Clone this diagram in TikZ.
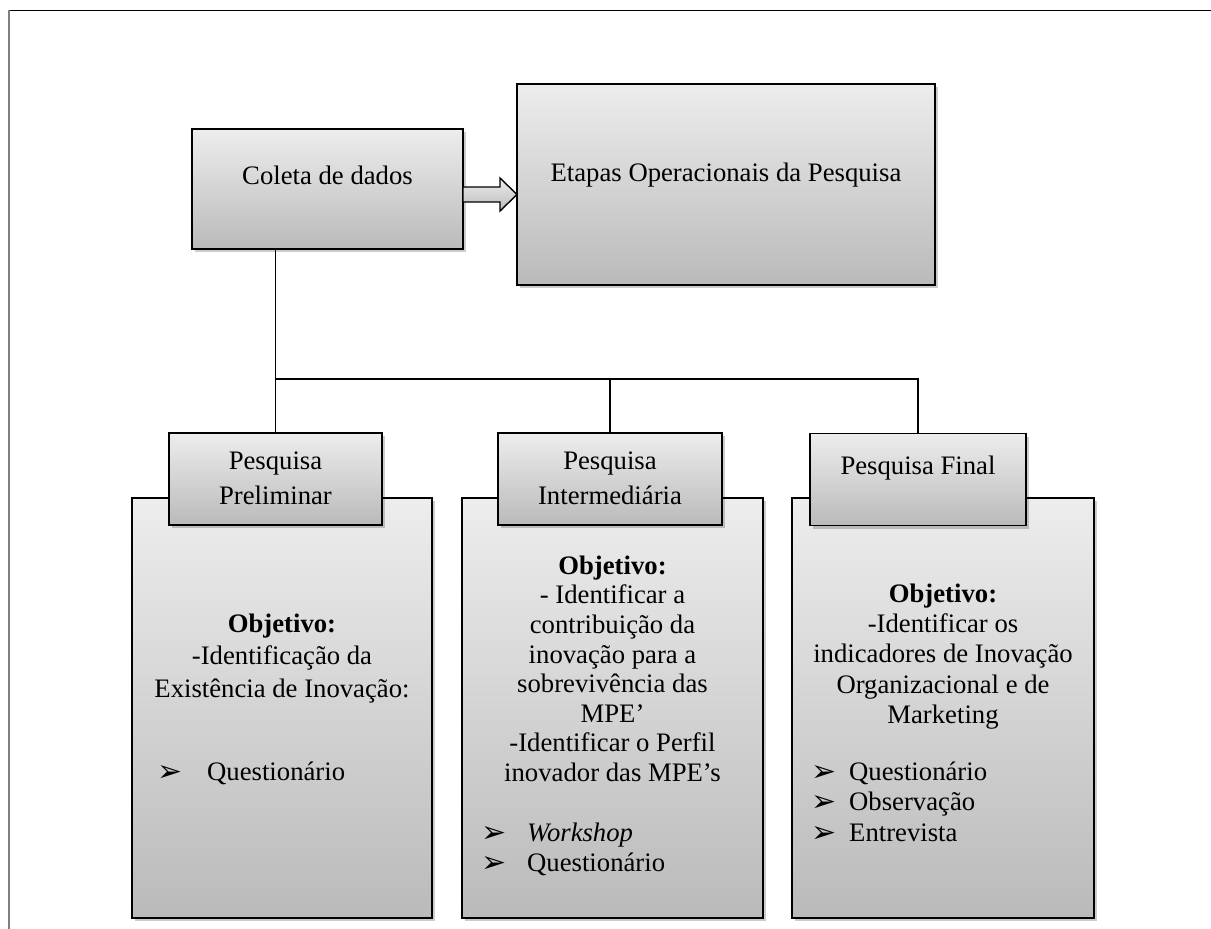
\documentclass[tikz,border=0pt]{standalone}
\usepackage{fontspec}
\setmainfont{Liberation Serif}
\newfontfamily\dejavu{DejaVu Sans}
\usetikzlibrary{shadows,calc}
\definecolor{boxtop}{RGB}{237,237,237}
\definecolor{boxbot}{RGB}{186,186,186}
\newcommand\myst{\rule{0pt}{20pt}}
\begin{document}
\begin{tikzpicture}[x=1pt,y=-1pt,
  box/.style={draw=black, line width=1.8pt, rectangle, inner sep=0pt, outer sep=0pt,
    top color=boxtop, bottom color=boxbot,
    drop shadow={shadow xshift=2.5pt, shadow yshift=-3pt, fill=black, opacity=0.2}},
  txt/.style={font=\fontsize{26.7}{31}\selectfont, align=center, inner sep=0pt, anchor=north},
  ltxt/.style={font=\fontsize{26.7}{31}\selectfont, inner sep=0pt, anchor=base west},
  bul/.style={font=\dejavu\fontsize{30}{30}\selectfont, inner sep=0pt, anchor=base west},
  ln/.style={line width=1.5pt, draw=black}]
\useasboundingbox (0,0) rectangle (1211,929);
% frame
\draw[line width=1.6pt] (9,10.5) -- (1211,10.5);
\draw[line width=2pt, draw=gray] (9,10) -- (9,929);
% top boxes
\node[box, minimum width=271pt, minimum height=120pt] (coleta) at (327.5,189) {};
\node[box, minimum width=418pt, minimum height=201pt] (etapas) at (726,184.5) {};
\node[txt] at (327.5,164) {\myst Coleta de dados};
\node[txt] at (726,161) {\myst Etapas Operacionais da Pesquisa};
% block arrow
\draw[line width=1.4pt, top color=boxtop, bottom color=boxbot, line join=miter]
  ($(coleta.east)+(0,-2)$) -- ++(37,0) -- ++(0,-9) -- ($(etapas.west)+(0,10)$)
  -- ($(coleta.east)+(37,22)$) -- ++(0,-9) -- ($(coleta.east)+(0,13)$) -- cycle;
% big boxes
\node[box, minimum width=300pt, minimum height=420pt] (bl) at (282,708) {};
\node[box, minimum width=301pt, minimum height=420pt] (bm) at (612.5,708) {};
\node[box, minimum width=302pt, minimum height=420pt] (br) at (943,708) {};
% small boxes
\node[box, minimum width=213pt, minimum height=92pt] (prelim) at (275.5,479) {};
\node[box, minimum width=224pt, minimum height=92pt] (inter) at (610,479) {};
\node[box, minimum width=216pt, minimum height=92pt] (final) at (918,479.5) {};
\node[txt, font=\fontsize{26.7}{35}\selectfont] at (275.5,449) {\myst Pesquisa\\Preliminar};
\node[txt, font=\fontsize{26.7}{35}\selectfont] at (610,449) {\myst Pesquisa\\Intermediária};
\node[txt] at (918,454) {\myst Pesquisa Final};
% connectors
\coordinate (hy) at (0,379);
\draw[ln] (prelim.north |- coleta.south) -- (prelim.north);
\draw[ln] (prelim.north |- hy) -| (final.north);
\draw[ln] (inter.north |- hy) -- (inter.north);
% left big box text
\node[txt, font=\fontsize{26.7}{32.5}\selectfont] at (282,612) {\myst\textbf{Objetivo:}\\-Identificação da\\Existência de Inovação:};
\node[bul] at (157,781) {➢};
\node[ltxt] at (207,780) {Questionário};
% middle big box text
\node[txt, font=\fontsize{26.7}{29.6}\selectfont] at (612.5,554) {\myst\textbf{Objetivo:}\\- Identificar a\\contribuição da\\inovação para a\\sobrevivência das\\MPE’\\-Identificar o Perfil\\inovador das MPE’s};
\node[bul] at (481,842) {➢};
\node[ltxt] at (527,841) {\textit{Workshop}};
\node[bul] at (481,872) {➢};
\node[ltxt] at (527,871) {Questionário};
% right big box text
\node[txt, font=\fontsize{26.7}{30.3}\selectfont] at (943,582) {\myst\textbf{Objetivo:}\\-Identificar os\\indicadores de Inovação\\Organizacional e de\\Marketing};
\node[bul] at (811,781) {➢};
\node[ltxt] at (849,780) {Questionário};
\node[bul] at (811,811) {➢};
\node[ltxt] at (849,810) {Observação};
\node[bul] at (811,842) {➢};
\node[ltxt] at (849,841) {Entrevista};
\end{tikzpicture}
\end{document}
